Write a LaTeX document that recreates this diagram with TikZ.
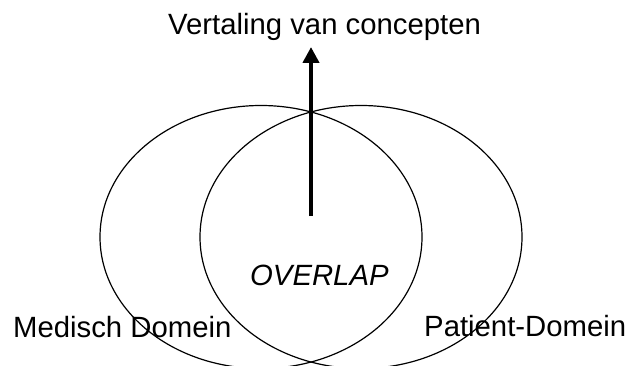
\documentclass[tikz,border=0pt]{standalone}
\usepackage{fontspec}
\setmainfont{Liberation Sans}
\usetikzlibrary{arrows.meta}
\begin{document}
\begin{tikzpicture}[x=1pt,y=-1pt,
  vennset/.style={draw=black,line width=1.2pt},
  txtlabel/.style={inner sep=0pt,anchor=base west,font=\fontsize{29.3}{35}\selectfont},
  flowarrow/.style={line width=4.3pt,-{Triangle[width=16pt,length=16pt]}}]
  \clip (0,0) rectangle (628,366);
  \useasboundingbox (0,0) rectangle (628,366);

  % the two domains
  \draw[vennset] (261,237) ellipse [x radius=161, y radius=131.5];
  \draw[vennset] (361,237) ellipse [x radius=161, y radius=131.5];

  % labels
  \node[txtlabel] (title) at (168,35) {Vertaling van concepten};
  \node[txtlabel] (medisch) at (13,337) {Medisch Domein};
  \node[txtlabel] (patient) at (424,336) {Patient-Domein};
  \node[txtlabel,font=\fontsize{29.3}{35}\selectfont\itshape] (overlap) at (250,285) {OVERLAP};

  % translation arrow out of the overlap
  \coordinate (from) at (311,216);
  \coordinate (to) at (311,47);
  \draw[flowarrow] (from) -- (to);
\end{tikzpicture}
\end{document}
